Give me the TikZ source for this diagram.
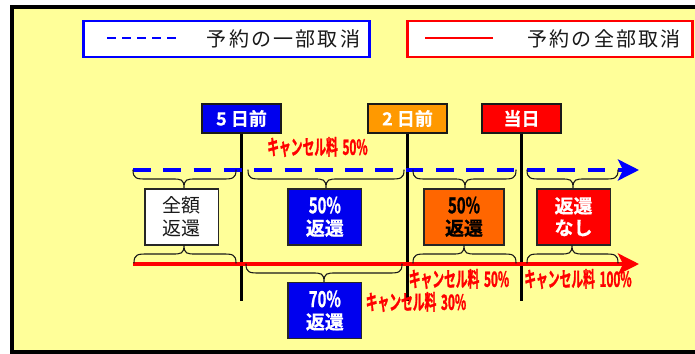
\documentclass[tikz,border=0pt]{standalone}
\usepackage{fontspec}
\setmainfont{Noto Sans CJK JP}
\newfontfamily\jpbold[FakeStretch=0.56,FakeBold=1.2]{Noto Sans CJK JP Bold}
\newfontfamily\jpboxb[FakeBold=0.6]{Noto Sans CJK JP Bold}
\newfontfamily\jpnum[FakeStretch=0.68,FakeBold=0.8]{Noto Sans CJK JP Bold}
\newfontfamily\jpspaced[LetterSpace=11]{Noto Sans CJK JP}
\usetikzlibrary{arrows.meta}
\definecolor{paper}{HTML}{FFFF99}
\definecolor{dayorange}{HTML}{FF9900}
\definecolor{boxorange}{HTML}{FF6600}
\definecolor{boxblue}{HTML}{0000EE}
\tikzset{
  x=1pt,y=-1pt,
  legendbox/.style={draw=#1,line width=2.2pt,fill=white,inner sep=0pt,minimum height=36.5pt,anchor=center},
  legendtext/.style={font=\fontsize{20pt}{22pt}\jpspaced,text=black!90,inner sep=0pt},
  daybox/.style={draw=black!90,line width=1.6pt,fill=#1,text=white,minimum width=79.5pt,minimum height=28.5pt,inner sep=0pt,font=\fontsize{18pt}{20pt}\jpboxb},
  refund/.style={draw=black!85,line width=1.5pt,fill=#1,minimum width=73.5pt,minimum height=56pt,inner sep=0pt,align=center},
  wbold/.style={text=white,font=\fontsize{19pt}{22pt}\jpboxb},
  fee/.style={text=red,inner sep=0pt,font=\fontsize{21pt}{22pt}\jpbold},
  timeline/.style={line width=3pt,black},
  track/.style={line width=4pt,-{Stealth[length=21pt,width=21pt,inset=5pt]}},
  bracket/.style={line width=1.1pt,black!90,line cap=round},
}
\newcommand{\bracecurve}[6]{% x1, xm, x2, yend, ymid, ytip
  \draw[bracket] (#1,#4) .. controls (#1,#5) and (#1+4,#5) .. (#1+14,#5) -- (#2-12,#5)
    .. controls (#2-3,#5) and (#2,#5) .. (#2,#6)
    .. controls (#2,#5) and (#2+3,#5) .. (#2+12,#5) -- (#3-14,#5)
    .. controls (#3-4,#5) and (#3,#5) .. (#3,#4);
}
\newcommand{\pct}[1]{{\fontsize{22pt}{22pt}\jpnum #1\%}}
\begin{document}
\begin{tikzpicture}
\useasboundingbox (0,0) rectangle (695,353);
\fill[white] (0,0) rectangle (695,353);
\path[fill=paper] (11.5,7.5) rectangle (700,351.5);
\draw[line width=4pt,black] (700,7.5) -- (11.5,7.5) -- (11.5,351.5) -- (700,351.5);

% legend
\node[legendbox=blue,minimum width=286pt] (legA) at (226.5,39) {};
\node[legendbox=red,minimum width=285pt] (legB) at (550,39) {};
\node[legendtext] (legAt) at (283.5,39) {予約の一部取消};
\node[legendtext] (legBt) at (604,39) {予約の全部取消};
\coordinate (la1) at (107,38); \coordinate (la2) at (176,38);
\coordinate (lb1) at (425,38); \coordinate (lb2) at (493,38);
\draw[blue,line width=2pt,dash pattern=on 9pt off 6pt] (la1) -- (la2);
\draw[red,line width=2pt] (lb1) -- (lb2);

% day markers
\node[daybox=boxblue] (d5) at (241.5,118.5) {5 日前};
\node[daybox=dayorange] (d2) at (407.5,118.5) {2 日前};
\node[daybox=red] (d0) at (521.5,118.5) {当日};
\coordinate (e5) at (241.5,301); \coordinate (e2) at (407.5,301); \coordinate (e0) at (521.5,301);
\draw[timeline] (d5.south) -- (e5);
\draw[timeline] (d2.south) -- (e2);
\draw[timeline] (d0.south) -- (e0);

% tracks
\coordinate (ts) at (133,170); \coordinate (te) at (639,170);
\coordinate (rs) at (133,264); \coordinate (re) at (639,264);
\draw[track,blue,dash pattern=on 17.7pt off 12.6pt] (ts) -- (te);
\draw[track,red] (rs) -- (re);

% refund boxes
\node[refund=white,text=black!90,font=\fontsize{19pt}{22.5pt}\selectfont] (r1) at (181.8,216.8) {全額\\返還};
\node[refund=boxblue,wbold] (r2) at (324.8,216.8) {\pct{50}\\返還};
\node[refund=boxorange,text=black,font=\fontsize{19pt}{22pt}\jpboxb,minimum width=80pt] (r3) at (464,216.8) {\pct{50}\\返還};
\node[refund=red,wbold] (r4) at (573.5,216.8) {返還\\なし};
\node[refund=boxblue,wbold] (r5) at (324.8,310.5) {\pct{70}\\返還};

% braces
\bracecurve{133}{184}{236}{170}{179}{188}
\bracecurve{248}{326}{404}{170}{179}{188}
\bracecurve{413}{465}{516}{170}{179}{188}
\bracecurve{527}{573}{618}{170}{179}{188}
\bracecurve{134}{184}{236}{263}{254}{245}
\bracecurve{413}{464}{516}{263}{254}{245}
\bracecurve{527}{572}{618}{263}{254}{245}
\bracecurve{246}{324}{402}{264}{273}{282}

% fee labels
\node[fee] (f1) at (317.5,147) {キャンセル料\hspace{2pt} 50\%};
\node[fee] (f2) at (459,279) {キャンセル料\hspace{2pt} 50\%};
\node[fee] (f3) at (578,279) {キャンセル料\hspace{2pt} 100\%};
\node[fee] (f4) at (416,302) {キャンセル料\hspace{2pt} 30\%};
\end{tikzpicture}
\end{document}
